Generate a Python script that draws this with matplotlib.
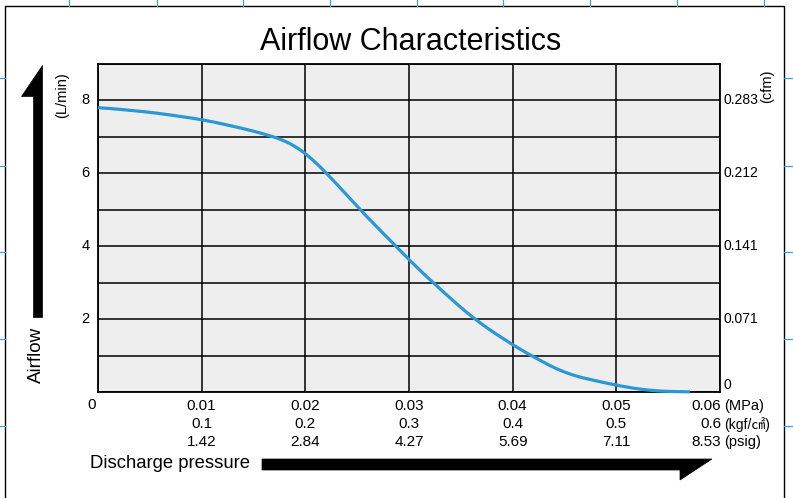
import numpy as np
import matplotlib
matplotlib.use('Agg')
import matplotlib.pyplot as plt
from matplotlib import font_manager
from matplotlib.lines import Line2D
from matplotlib.patches import Polygon

names = {f.name for f in font_manager.fontManager.ttflist}
narrow = 'Liberation Sans Narrow' if 'Liberation Sans Narrow' in names else 'Liberation Sans'
plt.rcParams['font.family'] = ['Liberation Sans', 'DejaVu Sans']

# curve: discharge pressure (MPa) vs airflow (L/min)
pressure = [0.0, 0.005, 0.010, 0.0145, 0.0169, 0.0185, 0.020, 0.0221, 0.0253, 0.0288,
            0.030, 0.033, 0.0364, 0.040, 0.042, 0.0452, 0.050, 0.0533, 0.0571]
airflow = [7.81, 7.68, 7.48, 7.20, 7.01, 6.86, 6.58, 6.00, 4.99, 3.98,
           3.62, 2.82, 1.97, 1.29, 0.96, 0.49, 0.18, 0.03, 0.0]

mpa = ['0.01', '0.02', '0.03', '0.04', '0.05', '0.06']
kgf = ['0.1', '0.2', '0.3', '0.4', '0.5', '0.6']
psig = ['1.42', '2.84', '4.27', '5.69', '7.11', '8.53']
lmin_ticks = [2, 4, 6, 8]
cfm_ticks = [0, 2, 4, 6, 8]
cfm_labels = ['0', '0.071', '0.141', '0.212', '0.283']

W, H = 793, 498
fig = plt.figure(figsize=(W / 100, H / 100), dpi=100)
fig.patch.set_facecolor('white')

def fx(px):
    return px / W

def fy(py):
    return 1 - py / H

ax = fig.add_axes([fx(98), fy(392), fx(720) - fx(98), fy(64) - fy(392)])
ax.set_facecolor('#eeeeee')
ax.set_xlim(0, 0.06)
ax.set_ylim(0, 9)
ax.set_xticks(np.arange(0, 0.061, 0.01))
ax.set_yticks(np.arange(0, 9.1, 1))
ax.grid(True, color='black', linewidth=1.1)
ax.set_axisbelow(True)
for s in ax.spines.values():
    s.set_linewidth(1.3)
ax.tick_params(length=0, labelbottom=False, labelleft=False)

# smooth the read points a little for drawing
xs = np.linspace(pressure[0], pressure[-1], 300)
ys = np.interp(xs, pressure, airflow)
k = 9
ys_s = np.convolve(np.pad(ys, k, mode='edge'), np.ones(2 * k + 1) / (2 * k + 1), mode='same')[k:-k]
ys_s[0] = airflow[0]
ax.plot(xs, ys_s, color='#2a98d4', linewidth=2.3, solid_capstyle='butt', clip_on=False, zorder=3)

# left axis labels
for v in lmin_ticks:
    ax.text(-0.0008, v, str(v), ha='right', va='center', fontsize=10.5)
# right axis labels
for v, lab in zip(cfm_ticks, cfm_labels):
    ax.text(0.0603, v, lab, ha='left', va='bottom' if v == 0 else 'center', fontsize=10)

# bottom three-row labels
tr = ax.get_xaxis_transform()
rows = [(mpa, 406), (kgf, 424), (psig, 442)]
for labs, py in rows:
    yy = (392 - py) / (392 - 64)
    for i, lab in enumerate(labs):
        xv = 0.01 * (i + 1)
        if i == len(labs) - 1:
            ax.text(xv + 0.0001, yy, lab, transform=tr, ha='right', va='center',
                    fontsize=11, family=narrow)
        else:
            ax.text(xv, yy, lab, transform=tr, ha='center', va='center',
                    fontsize=11, family=narrow)
ax.text(-0.0006, (392 - 405) / 328, '0', transform=tr, ha='center', va='center',
        fontsize=11, family=narrow)

fig.text(fx(724), fy(406), '(MPa)', ha='left', va='center', fontsize=10.5, family=narrow)
fig.text(fx(724), fy(424), '(kgf/\u33a0)', ha='left', va='center', fontsize=10,
         family=[narrow, 'Noto Sans CJK JP'])
fig.text(fx(724), fy(442), '(psig)', ha='left', va='center', fontsize=10.5, family=narrow)

fig.text(fx(411), fy(42), 'Airflow Characteristics', ha='center', va='center',
         fontsize=22, family=narrow)
fig.text(fx(90), fy(463), 'Discharge pressure', ha='left', va='center',
         fontsize=13.3, family=narrow)
fig.text(fx(62), fy(95), '(L/min)', rotation=90, ha='center', va='center', fontsize=10.5)
fig.text(fx(767), fy(86), '(cfm)', rotation=90, ha='center', va='center', fontsize=10.5)
fig.text(fx(36), fy(355), 'Airflow', rotation=90, ha='center', va='center', fontsize=13.5)

# big arrows
up = [(42, 65), (42, 317), (33, 317), (33, 96), (21, 96)]
right = [(262, 459), (712, 459), (680, 480), (680, 470), (262, 470)]
for pts in (up, right):
    fig.add_artist(Polygon([(fx(a), fy(b)) for a, b in pts], closed=True,
                           facecolor='black', edgecolor='black', linewidth=0.5,
                           transform=fig.transFigure))

# page frame and registration marks
fig.add_artist(Line2D([fx(5), fx(5), fx(784), fx(784)], [0, fy(6), fy(6), 0],
                      color='black', linewidth=1.0, transform=fig.transFigure))
blue = '#3aa0d8'
for px in [69, 157, 243, 330, 417, 503, 590, 677, 764]:
    fig.add_artist(Line2D([fx(px), fx(px)], [1, fy(6)], color=blue, linewidth=0.9,
                          transform=fig.transFigure))
for py in [78, 166, 252, 339, 426]:
    fig.add_artist(Line2D([0, fx(5)], [fy(py), fy(py)], color=blue, linewidth=0.9,
                          transform=fig.transFigure))
    fig.add_artist(Line2D([fx(784), 1], [fy(py), fy(py)], color=blue, linewidth=0.9,
                          transform=fig.transFigure))

fig.savefig('out.png', dpi=100)
